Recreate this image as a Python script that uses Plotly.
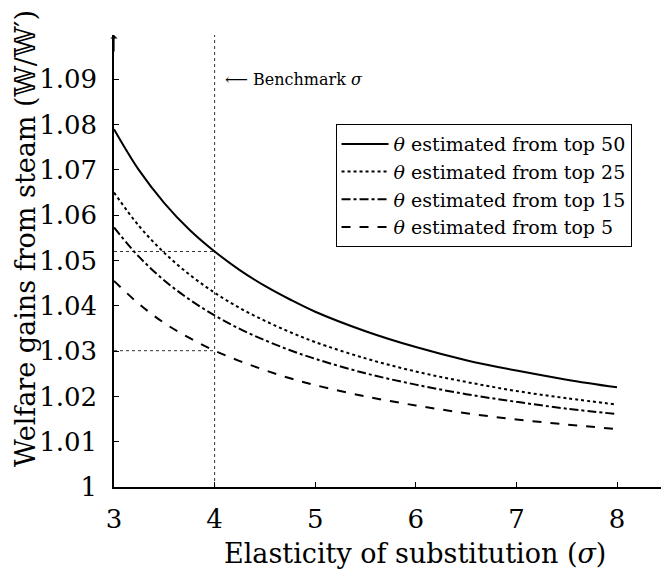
import plotly.graph_objects as go

sigma = [3, 3.25, 3.5, 3.75, 4, 4.25, 4.5, 4.75, 5, 5.5, 6, 6.5, 7, 7.5, 8]
top50 = [1.0790, 1.0699, 1.0627, 1.0568, 1.0520, 1.0479, 1.0444, 1.0414, 1.0387, 1.0344, 1.0309, 1.0280, 1.0257, 1.0237, 1.0220]
top25 = [1.0650, 1.0576, 1.0517, 1.0469, 1.0429, 1.0395, 1.0367, 1.0342, 1.0320, 1.0284, 1.0255, 1.0232, 1.0212, 1.0196, 1.0182]
top15 = [1.0573, 1.0508, 1.0456, 1.0414, 1.0379, 1.0349, 1.0324, 1.0302, 1.0283, 1.0251, 1.0226, 1.0205, 1.0188, 1.0173, 1.0161]
top5 = [1.0455, 1.0404, 1.0362, 1.0329, 1.0301, 1.0278, 1.0258, 1.0240, 1.0225, 1.0200, 1.0180, 1.0163, 1.0149, 1.0138, 1.0128]
names = ["<i>θ</i> estimated from top 50", "<i>θ</i> estimated from top 25",
         "<i>θ</i> estimated from top 15", "<i>θ</i> estimated from top 5"]
dashes = ["solid", "dot", "dashdot", "dash"]
benchmark_sigma = 4
x_ticks = [3, 4, 5, 6, 7, 8]
y_ticks = [1, 1.01, 1.02, 1.03, 1.04, 1.05, 1.06, 1.07, 1.08, 1.09]
y_ticklabels = ["1", "1.01", "1.02", "1.03", "1.04", "1.05", "1.06", "1.07", "1.08", "1.09"]

FONT = "DejaVu Serif"
fig = go.Figure()
for ys, nm, d in zip([top50, top25, top15, top5], names, dashes):
    fig.add_trace(go.Scatter(x=sigma, y=ys, mode="lines", name=nm,
                             line=dict(color="black", width=2, dash=d, shape="spline")))

ymax = 1.0998
xmax = 8.437
bi = sigma.index(benchmark_sigma)
dotline = dict(color="#333", width=1, dash="dot")
fig.add_shape(type="line", x0=benchmark_sigma, x1=benchmark_sigma, y0=1, y1=ymax, line=dotline, layer="below")
for ys in [top50, top5]:
    fig.add_shape(type="line", x0=sigma[0], x1=benchmark_sigma, y0=ys[bi], y1=ys[bi], line=dotline, layer="below")

fig.add_annotation(x=benchmark_sigma, y=1.09, xanchor="left", yanchor="middle", xshift=8,
                   text="⟵ Benchmark <i>σ</i>", showarrow=False,
                   font=dict(family=FONT, size=16, color="black"))
# y-axis arrow
fig.add_annotation(x=3, y=ymax, ax=3, ay=ymax - 0.004, xref="x", yref="y", axref="x", ayref="y",
                   text="", showarrow=True, arrowhead=1, arrowsize=1, arrowwidth=1.2, arrowcolor="black")

fig.add_annotation(xref="paper", yref="paper", x=-0.161, y=0.551, textangle=-90,
                   text="Welfare gains from steam (𝕎/𝕎′)", showarrow=False,
                   xanchor="center", yanchor="middle",
                   font=dict(family=FONT, size=27, color="black"))
fig.add_annotation(xref="paper", yref="paper", x=0.55, y=-0.185, yanchor="bottom",
                   text="Elasticity of substitution (<i>σ</i>)", showarrow=False,
                   font=dict(family=FONT, size=27, color="black"))

fig.update_layout(
    width=661, height=578,
    margin=dict(l=114, r=0, t=35, b=91),
    plot_bgcolor="white", paper_bgcolor="white",
    font=dict(family=FONT, color="black"),
    showlegend=True,
    legend=dict(x=0.405, y=0.803, xanchor="left", yanchor="top",
                bordercolor="black", borderwidth=1, bgcolor="white",
                font=dict(family=FONT, size=19, color="black"),
                tracegroupgap=0, itemwidth=47),
    xaxis=dict(range=[3, xmax], tickvals=x_ticks, ticks="inside", ticklen=5, tickcolor="black",
               showline=True, linecolor="black", linewidth=1.5, showgrid=False, zeroline=False,
               tickfont=dict(family=FONT, size=26), ticklabelstandoff=8),
    yaxis=dict(range=[1, ymax], tickvals=y_ticks, ticktext=y_ticklabels, ticks="inside", ticklen=5,
               tickcolor="black", showline=True, linecolor="black", linewidth=1.5, showgrid=False,
               zeroline=False, tickfont=dict(family=FONT, size=26), ticklabelstandoff=10),
)
fig.write_html("out.html")
